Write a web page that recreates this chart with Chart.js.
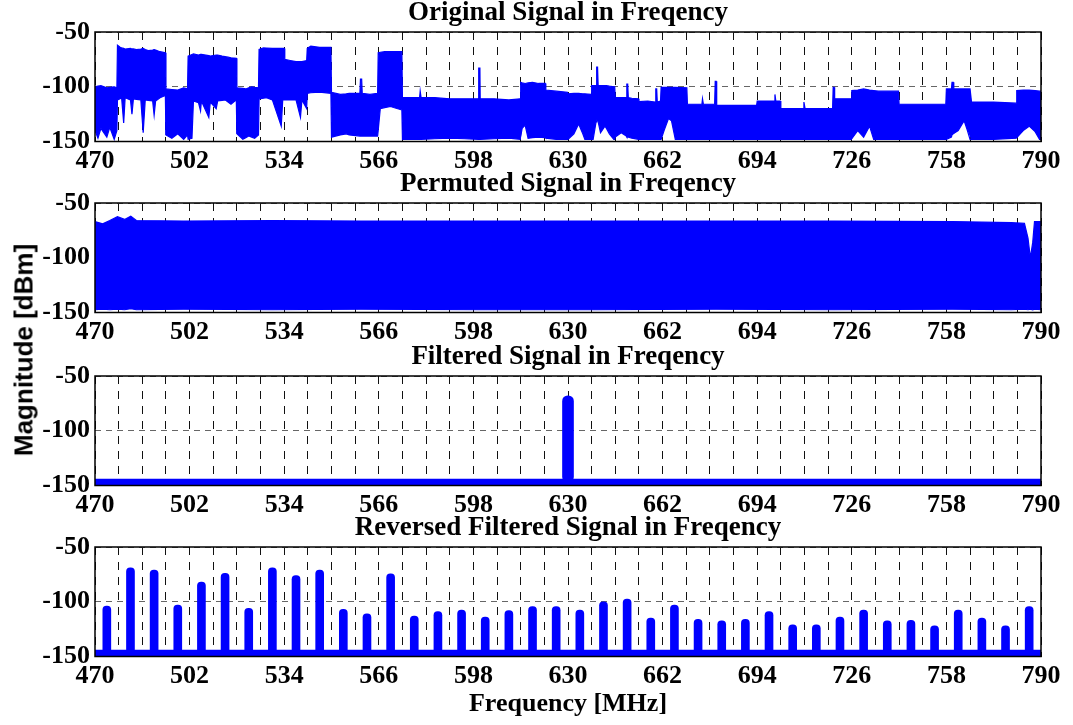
<!DOCTYPE html>
<html><head><meta charset="utf-8">
<script src="https://cdn.jsdelivr.net/npm/chart.js@4.4.0/dist/chart.umd.min.js"></script>
<style>
html,body{margin:0;padding:0;background:#fff;}
#wrap{position:relative;width:1073px;height:725px;overflow:hidden;background:#fff;}
#wrap canvas{position:absolute;left:0;}
#ylab{position:absolute;left:24px;top:350px;transform:translate(-50%,-50%) rotate(-90deg);font:bold 26px "Liberation Sans",Arial,sans-serif;white-space:nowrap;color:#000;}
</style></head><body>
<div id="wrap">
<canvas id="c1" width="1073" height="172" style="top:0px"></canvas>
<canvas id="c2" width="1073" height="172" style="top:171px"></canvas>
<canvas id="c3" width="1073" height="172" style="top:344px"></canvas>
<canvas id="c4" width="1073" height="210" style="top:515px"></canvas>
<div id="ylab">Magnitude [dBm]</div>
</div>
<script>
// ---------- data ----------
const xMin = 470, xMax = 790;
const gridStepMHz = 8;
const xTickLabels = [470, 502, 534, 566, 598, 630, 662, 694, 726, 758, 790];
const yTickLabels = [-150, -100, -50];
const panelTitles = [
  'Original Signal in Freqency',
  'Permuted Signal in Freqency',
  'Filtered Signal in Freqency',
  'Reversed Filtered Signal in Freqency'
];
const xAxisTitle = 'Frequency [MHz]';

// Panel 1: original spectrum, upper / lower envelope of the dense trace (MHz, dBm)
const p1Freq = [470,471,472,474,475,476.5,477.4,477.6,478.5,479,479.7,480.2,482,482.5,483,484,485.5,486.3,487,488,489.5,490,490.5,492,493.8,
  494,496,498,500,501.3,501.5,502.8,503.3,505,505.7,506,508.5,509,511,511.5,513,514,515,516,517.8,
  518,520,521,522,523,524,525.3,525.5,527,528,530,533,533.5,534,534.2,536,538,539.5,540,541.6,541.8,543,546,549.8,
  550,553,555,556,559.6,559.8,560.2,560.4,563,565.6,565.8,566.5,568,570,571,573.5,573.8,
  574,579.8,580,580.3,585,590,595,599.7,599.8,600.2,600.3,605,610,613.8,614,614.5,615.5,616.5,618,620,622.3,622.5,626,629.8,
  630,632,633.6,635,635.7,637.8,638,638.5,639.5,639.7,640,640.2,641,642.5,643,644,645.5,645.8,646,648,649.7,649.9,650.2,650.4,651.6,653.8,
  654,657,659.5,659.7,660,660.2,661.3,661.5,662.5,664,665,666.3,670.2,670.4,675.3,675.5,675.8,679.6,679.8,680.1,680.3,685,690,693.8,
  694,699.7,700,700.3,701.8,702,709.6,709.8,710.2,715,719.5,719.7,720,720.2,725.8,726,728,730,732,733.4,735,741.8,
  742,750,757.8,758,759.7,759.9,760.3,760.5,762,764,765,766,766.3,766.5,774,781.6,781.8,784,786,788,789.5,790];
const p1UpperDb = [-100,-99.5,-99,-101,-100.5,-100,-101,-62,-64,-64.5,-65,-65.5,-65,-65.5,-65.5,-66,-65.5,-65,-66,-67,-66.5,-66,-66.5,-68,-69,
  -102,-102.5,-103,-101,-102,-72,-70.5,-70,-71,-70.5,-70.5,-71.5,-72,-71,-71,-72,-72.5,-73,-73.5,-74,
  -101,-101.5,-102,-101,-100,-100.5,-101,-66,-64.5,-64.7,-65,-65,-65,-65,-75,-76,-77,-77,-77,-76,-65,-63,-64,-64,
  -105,-107,-106.5,-106,-106,-93,-93,-106,-107,-106,-69,-68.5,-68,-68,-68,-68,-68,
  -110,-110,-104,-110,-110,-111,-111,-111,-83,-83,-111,-111,-112,-111,-96,-96.5,-97,-96.5,-96,-97,-97,-103,-104,-105,
  -106.5,-106,-106,-106.5,-106.5,-107,-99,-99,-99,-82,-82,-99,-99,-99,-99,-99.5,-100,-100,-110,-110,-110,-97.5,-97.5,-110,-110.5,-111,
  -113.5,-113,-114,-102,-102,-114,-113,-100.5,-100.5,-100.5,-100.5,-100.5,-101,-116,-116,-111,-116,-116,-95,-95,-117,-117,-117,-117,
  -113,-113,-107,-113,-113,-120,-120,-114,-120,-120,-120,-100.5,-100.5,-111,-111,-103.5,-103,-102,-103,-103.5,-104,-104,
  -116,-116,-116,-102,-102,-96,-96,-102,-102,-102,-102,-102,-102,-114,-114,-115,-103.5,-103,-103,-103.5,-104,-104];
const p1LowerDb = [-140,-147,-138,-146,-137,-148,-140,-112,-111,-110,-133,-110,-112,-125,-111,-111.5,-112,-142,-112,-112.5,-113,-126,-113,-110,-108,
  -144,-147,-143,-148,-144,-148,-147,-113,-114.5,-122,-113,-128,-114,-120,-113,-112.5,-112,-114,-116,-112,
  -143,-148,-146.5,-145,-146,-147,-144,-111,-110.5,-110,-112,-136,-112,-112,-112,-112,-112,-128,-112,-120,-106,-105.5,-105,-106,
  -146,-144,-143,-144,-145,-145,-145,-145,-145,-145,-140,-120,-119,-118,-119,-121,-121,
  -148,-148,-148,-148,-147.5,-147,-147.5,-148,-148,-148,-148,-147.5,-147,-148,-148,-138,-135,-147,-146.5,-146,-146.5,-147,-148,-148,
  -148,-143,-134,-143,-148,-148,-148,-148,-132,-130,-130,-132,-142,-136,-138,-143,-148,-148,-146,-142,-145,-146,-146,-146,-147,-148,
  -148,-148,-148,-148,-148,-148,-148,-148,-140,-129,-131,-148,-148,-148,-148,-148,-148,-148,-148,-148,-148,-148,-148,-148,
  -148,-148,-148,-148,-148,-148,-148,-148,-148,-148,-148,-148,-148,-148,-148,-148,-140,-146,-136,-148,-148,-148,
  -148,-148,-148,-148,-146,-144,-143,-143,-140,-131,-139,-148,-148,-148,-148,-147,-147,-140,-136,-141,-148,-148];

// Panel 2: permuted spectrum envelopes (MHz, dBm)
const p2Freq    = [470,472.6,475,477.6,480,482.1,484,500,530,560,600,640,680,720,760,780,784.4,785.6,786.4,787.2,787.8,790];
const p2UpperDb = [-67,-69,-66,-62.5,-65,-62,-66,-66.5,-66,-66.5,-66.5,-66.5,-66.5,-66.5,-67,-68,-68.5,-82,-100,-86,-67,-67];
const p2LowerDb = [-147.5,-147,-147.5,-147,-147.5,-146.5,-147.5,-147,-147.5,-147,-147.5,-147.5,-147,-147.5,-147,-147.5,-147,-147.5,-147,-147.5,-147,-147.5];

// Panels 3 & 4: floor level and spikes
const floorDb = -147;
const p3SpikeFreq = [630];
const p3SpikeTop  = [-68];
const p4SpikeFreq = [474,482,490,498,506,514,522,530,538,546,554,562,570,578,586,594,602,610,618,626,634,642,650,658,666,674,682,690,698,706,714,722,730,738,746,754,762,770,778,786];
const p4SpikeTop  = [-104,-69,-71,-103,-82,-74,-106,-69,-76,-71,-107,-111,-74.5,-113,-109,-107.5,-114,-108,-104.5,-104.5,-107.5,-100,-97.5,-115,-103,-116,-117.5,-116,-109,-121,-121,-114,-107.5,-117.5,-117,-122,-107.5,-115,-122,-104.5];

// ---------- helpers ----------
const BLUE = '#0000ff';
const SERIF = "'Liberation Serif','Times New Roman',serif";
Chart.defaults.font.family = SERIF;
Chart.defaults.font.weight = 'bold';

const zip = (xs, ys) => xs.map((x, i) => ({x: x, y: ys[i]}));

const boxPlugin = {
  id: 'axesBox',
  afterDatasetsDraw(chart) {
    const {ctx, chartArea: a} = chart;
    ctx.save();
    ctx.strokeStyle = '#000';
    ctx.lineWidth = 1.5;
    ctx.setLineDash([]);
    ctx.strokeRect(a.left, a.top, a.right - a.left, a.bottom - a.top);
    ctx.restore();
  }
};

function envelopeSets(freq, up, low) {
  return [
    {type: 'line', data: zip(freq, up), borderColor: BLUE, backgroundColor: BLUE, borderWidth: 1.2,
     pointRadius: 0, tension: 0, fill: '+1'},
    {type: 'line', data: zip(freq, low), borderColor: BLUE, backgroundColor: BLUE, borderWidth: 1.2,
     pointRadius: 0, tension: 0, fill: false}
  ];
}

function spikeSets(freqs, tops, width) {
  return [
    {type: 'line', data: [{x: xMin, y: floorDb}, {x: xMax, y: floorDb}], borderColor: BLUE,
     borderWidth: 7, pointRadius: 0, fill: false, borderCapStyle: 'butt'},
    {type: 'bar', data: freqs.map((f, i) => ({x: f, y: [floorDb, tops[i]]})), backgroundColor: BLUE,
     borderWidth: 0, barThickness: width, borderRadius: width / 2, borderSkipped: false, grouped: false}
  ];
}

function buildChart(id, title, datasets, xHeight, showXTitle) {
  return new Chart(document.getElementById(id), {
    type: 'line',
    data: {datasets: datasets},
    options: {
      responsive: false,
      animation: false,
      devicePixelRatio: 1,
      events: [],
      layout: {padding: {left: 0, right: 32, top: 0, bottom: 0}},
      plugins: {
        legend: {display: false},
        tooltip: {enabled: false},
        title: {display: true, text: title, fullSize: false, color: '#000',
          font: {family: SERIF, size: 27, weight: 'bold', lineHeight: 1},
          padding: {top: 0, bottom: 5}}
      },
      scales: {
        x: {
          type: 'linear', min: xMin, max: xMax, offset: false,
          ticks: {stepSize: gridStepMHz, autoSkip: false, maxRotation: 0, minRotation: 0, padding: 4,
            color: '#000', font: {family: SERIF, size: 26, weight: 'bold'},
            callback: (v) => xTickLabels.includes(v) ? String(v) : ''},
          grid: {color: '#111', lineWidth: 1, drawTicks: false, offset: false},
          border: {display: false, dash: [8, 7]},
          title: {display: showXTitle, text: xAxisTitle, color: '#000',
            font: {family: SERIF, size: 26, weight: 'bold'}, padding: {top: 0, bottom: 5}},
          afterFit: (s) => { s.height = xHeight; }
        },
        y: {
          type: 'linear', min: yTickLabels[0], max: yTickLabels[yTickLabels.length - 1],
          ticks: {stepSize: 50, padding: 5, color: '#000',
            font: {family: SERIF, size: 26, weight: 'bold'},
            callback: (v) => yTickLabels.includes(v) ? String(v) : ''},
          grid: {color: '#666', lineWidth: 1, drawTicks: false},
          border: {display: false, dash: [6, 5]},
          afterFit: (s) => { s.width = 95; }
        }
      }
    },
    plugins: [boxPlugin]
  });
}

buildChart('c1', panelTitles[0], envelopeSets(p1Freq, p1UpperDb, p1LowerDb), 30.5, false);
buildChart('c2', panelTitles[1], envelopeSets(p2Freq, p2UpperDb, p2LowerDb), 30.5, false);
buildChart('c3', panelTitles[2], spikeSets(p3SpikeFreq, p3SpikeTop, 11), 30.5, false);
buildChart('c4', panelTitles[3], spikeSets(p4SpikeFreq, p4SpikeTop, 8), 68.5, true);
</script>
</body></html>
